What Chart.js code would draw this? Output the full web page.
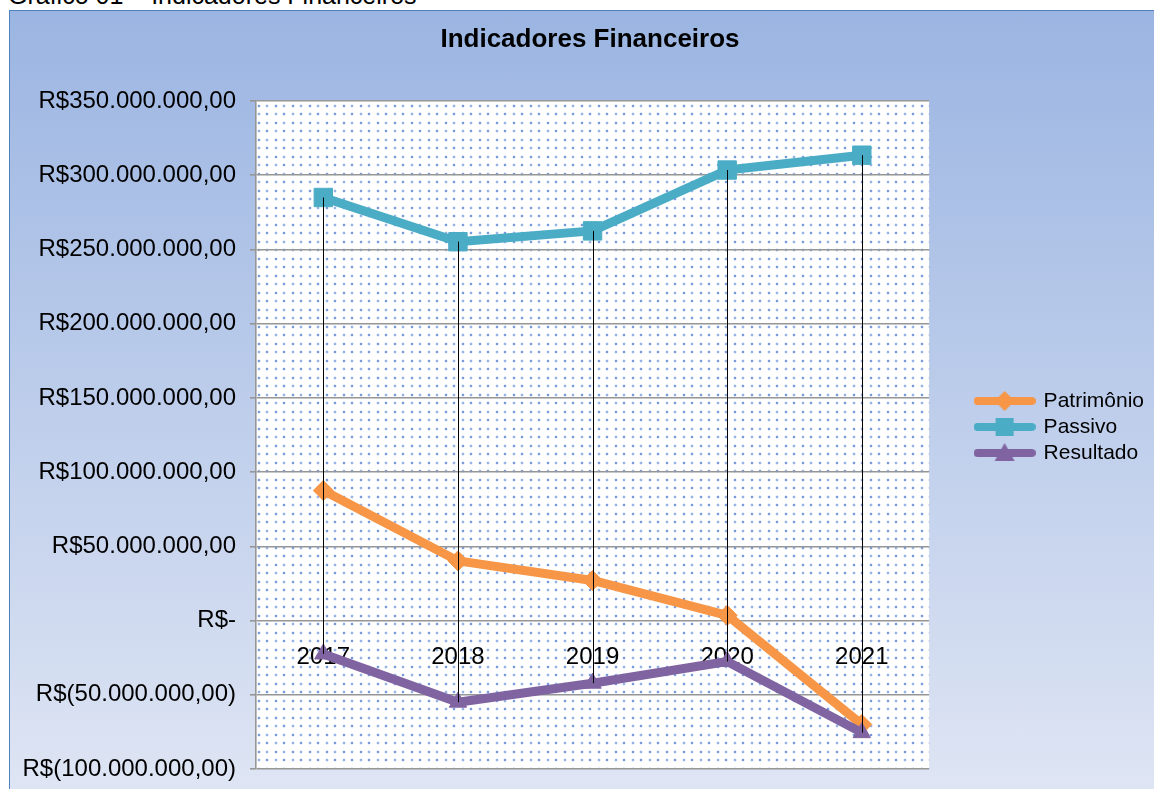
<!DOCTYPE html>
<html><head><meta charset="utf-8">
<script src="https://cdn.jsdelivr.net/npm/chart.js@4.4.0/dist/chart.umd.min.js"></script>
<style>
html,body{margin:0;padding:0;width:1154px;height:789px;overflow:hidden;background:#fff;font-family:"Liberation Sans",Arial,sans-serif;}
#bg{position:absolute;left:9px;top:10px;width:1160px;height:800px;border-left:1px solid #4f81bd;border-top:1px solid #4f81bd;background:linear-gradient(to bottom,#9bb5e2 0%,#e0e6f4 100%);}
#caption{position:absolute;left:8px;top:-17px;font-size:25px;line-height:25px;white-space:nowrap;color:#000;}
#title{position:absolute;left:390px;width:400px;top:25px;text-align:center;font-weight:bold;font-size:26px;line-height:26px;color:#000;white-space:nowrap;}
canvas{position:absolute;left:0;top:0;}
</style></head>
<body>
<div id="bg"></div>
<div id="caption">Gráfico 01 – Indicadores Financeiros</div>
<canvas id="c" width="1154" height="789"></canvas>
<div id="title">Indicadores Financeiros</div>
<script>
// ---- data ----
const categories = ['2017', '2018', '2019', '2020', '2021'];
const patrimonio = [87.6e6, 40.2e6, 27e6, 3.5e6, -70e6];
const passivo = [285e6, 255.2e6, 262.5e6, 303.5e6, 313.5e6];
const resultado = [-22.5e6, -55e6, -42.2e6, -27.6e6, -75.5e6];
const seriesNames = ['Patrimônio', 'Passivo', 'Resultado'];
const yTickValues = [-100e6, -50e6, 0, 50e6, 100e6, 150e6, 200e6, 250e6, 300e6, 350e6];
const yTickLabels = ['R$(100.000.000,00)', 'R$(50.000.000,00)', 'R$-', 'R$50.000.000,00', 'R$100.000.000,00',
  'R$150.000.000,00', 'R$200.000.000,00', 'R$250.000.000,00', 'R$300.000.000,00', 'R$350.000.000,00'];

const colors = ['#f79646', '#4bacc6', '#8064a2'];
const styles = ['rectRot', 'rect', 'triangle'];
const FONT = '"Liberation Sans", Arial, sans-serif';

function makeIcon(color, style) {
  const c = document.createElement('canvas');
  c.width = 62; c.height = 24;
  const g = c.getContext('2d');
  g.strokeStyle = color; g.lineWidth = 8; g.lineCap = 'round';
  g.beginPath(); g.moveTo(4, 12); g.lineTo(58, 12); g.stroke();
  g.fillStyle = color;
  g.beginPath();
  if (style === 'rectRot') { g.moveTo(31, 2); g.lineTo(41, 12); g.lineTo(31, 22); g.lineTo(21, 12); }
  else if (style === 'rect') { g.rect(22, 3, 18, 18); }
  else { g.moveTo(31, 2); g.lineTo(41, 20); g.lineTo(21, 20); }
  g.closePath(); g.fill();
  return c;
}
const icons = colors.map((c, i) => makeIcon(c, styles[i]));

function makePattern(ctx) {
  const t = document.createElement('canvas');
  t.width = 17; t.height = 17;
  const g = t.getContext('2d');
  g.fillStyle = '#ffffff'; g.fillRect(0, 0, 17, 17);
  [[3, 3, 1], [11, 3, 0], [3, 11, 0], [11, 11, 1]].forEach(([x, y, strong]) => {
    g.fillStyle = 'rgba(185,205,240,0.35)'; g.fillRect(x - 1, y, 4, 2); g.fillRect(x, y - 1, 2, 4);
    g.fillStyle = strong ? 'rgba(85,130,208,0.75)' : 'rgba(105,148,215,0.6)';
    g.fillRect(x, y, 2, 2);
  });
  return ctx.createPattern(t, 'repeat');
}

const bgPlugin = {
  id: 'plotBg',
  beforeDraw(chart) {
    const {ctx, chartArea: a} = chart;
    if (!this.pat) this.pat = makePattern(ctx);
    ctx.save();
    ctx.fillStyle = this.pat;
    ctx.fillRect(a.left, a.top, a.right - a.left, a.bottom - a.top);
    ctx.restore();
  }
};
const hiLoPlugin = {
  id: 'hiLo',
  afterDatasetsDraw(chart) {
    const {ctx, scales: {x, y}} = chart;
    ctx.save();
    ctx.strokeStyle = '#000'; ctx.lineWidth = 1;
    categories.forEach((cat, i) => {
      const vals = chart.data.datasets.map(d => d.data[i]);
      const px = Math.round(x.getPixelForValue(i)) + 0.5;
      ctx.beginPath();
      ctx.moveTo(px, y.getPixelForValue(Math.max(...vals)));
      ctx.lineTo(px, y.getPixelForValue(Math.min(...vals)));
      ctx.stroke();
    });
    ctx.restore();
  }
};
const legendShift = {
  id: 'legendShift',
  afterLayout(chart) {
    const L = chart.legend, a = chart.chartArea;
    L.top = a.top - 8; L.bottom = L.top + (a.bottom - a.top);
  }
};

const seriesData = [patrimonio, passivo, resultado];
new Chart(document.getElementById('c'), {
  type: 'line',
  data: {
    labels: categories,
    datasets: seriesData.map((d, i) => ({
      label: seriesNames[i],
      data: d,
      borderColor: colors[i],
      backgroundColor: colors[i],
      borderWidth: 9,
      borderJoinStyle: 'round',
      tension: 0,
      pointStyle: styles[i],
      pointRadius: [10, 13, 10][i],
      pointBorderWidth: 1,
      pointBackgroundColor: colors[i],
      pointBorderColor: colors[i],
      order: 3 - i
    }))
  },
  options: {
    responsive: false,
    animation: false,
    devicePixelRatio: 1,
    layout: {padding: {top: 101, bottom: 20, left: 0, right: 0}},
    plugins: {
      title: {display: false},
      tooltip: {enabled: false},
      legend: {
        position: 'right',
        align: 'center',
        labels: {
          usePointStyle: true,
          pointStyleWidth: 57,
          padding: 5,
          color: '#000',
          font: {family: FONT, size: 21},
          generateLabels: (chart) => chart.data.datasets.map((d, i) => ({
            text: d.label, pointStyle: icons[i], fillStyle: colors[i], strokeStyle: colors[i],
            lineWidth: 0, hidden: false, datasetIndex: i, fontColor: '#000'
          }))
        }
      }
    },
    scales: {
      x: {
        type: 'category',
        position: {y: 0},
        offset: true,
        z: 1,
        grid: {display: false},
        border: {display: false},
        ticks: {color: '#000', font: {family: FONT, size: 24}, padding: 14, maxRotation: 0, autoSkip: false},
        afterFit: s => { s.height = 0; }
      },
      y: {
        type: 'linear',
        position: 'left',
        min: -100e6,
        max: 350e6,
        afterBuildTicks: s => { s.ticks = yTickValues.map(v => ({value: v})); },
        grid: {color: '#969696', lineWidth: 1.6, tickLength: 6, drawTicks: true},
        border: {display: true, color: '#969696', width: 1.6},
        ticks: {
          color: '#000', font: {family: FONT, size: 24}, padding: 14,
          callback: v => yTickLabels[yTickValues.indexOf(v)]
        },
        afterFit: s => { s.width = 256; s.paddingTop = 0; s.paddingBottom = 0; }
      },
      y2: {
        type: 'linear',
        position: 'right',
        display: true,
        grid: {display: false},
        border: {display: false},
        ticks: {display: false},
        afterFit: s => { s.width = 42; s.paddingTop = 0; s.paddingBottom = 0; }
      }
    }
  },
  plugins: [bgPlugin, hiLoPlugin, legendShift]
});
</script>
</body></html>
